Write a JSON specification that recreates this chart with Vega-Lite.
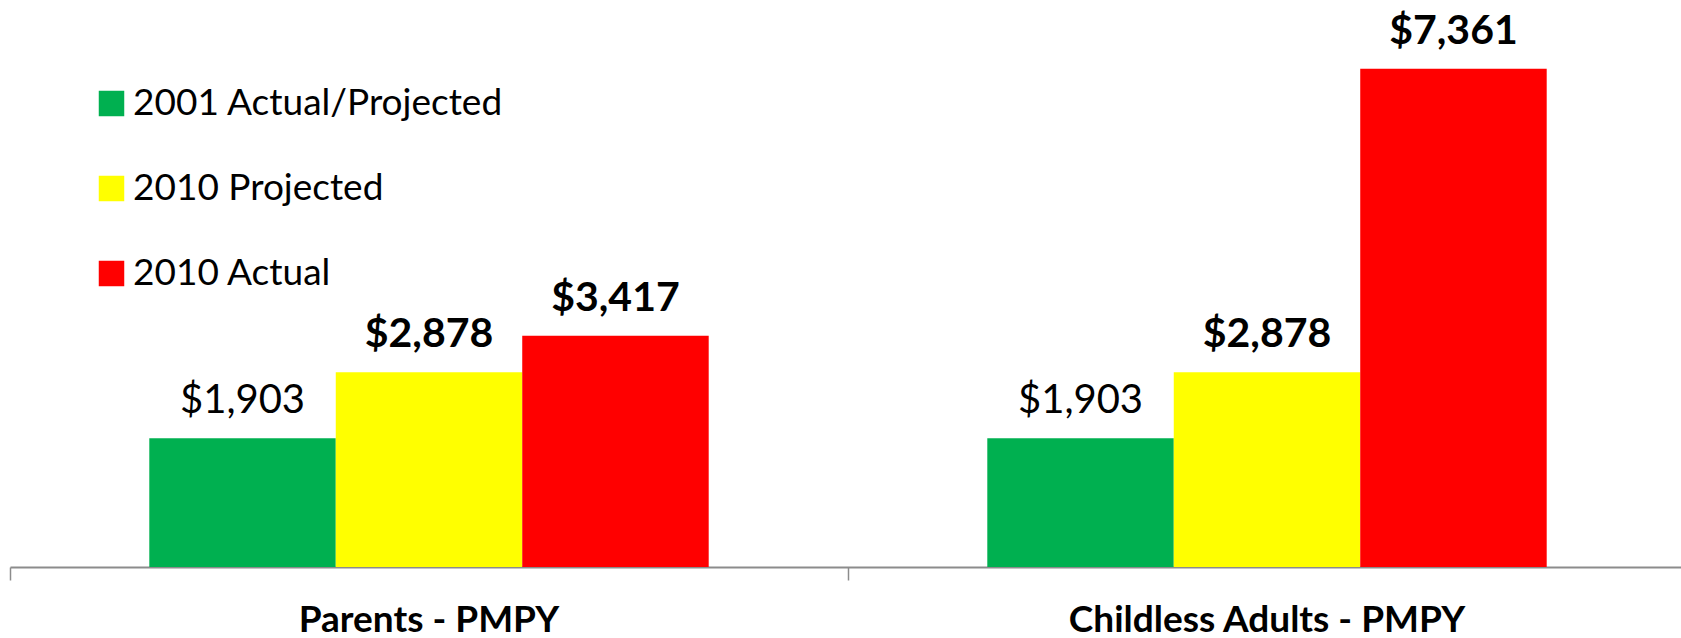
{
  "$schema": "https://vega.github.io/schema/vega-lite/v6.json",
  "width": 1676,
  "height": 567,
  "autosize": {"type": "none"},
  "padding": {"left": 10, "top": 0, "right": 0, "bottom": 71},
  "background": "white",
  "config": {"view": {"stroke": null}, "font": "Lato"},
  "data": {
    "values": [
      {"group": "Parents - PMPY", "series": "2001 Actual/Projected", "value": 1903},
      {"group": "Parents - PMPY", "series": "2010 Projected", "value": 2878},
      {"group": "Parents - PMPY", "series": "2010 Actual", "value": 3417},
      {"group": "Childless Adults - PMPY", "series": "2001 Actual/Projected", "value": 1903},
      {"group": "Childless Adults - PMPY", "series": "2010 Projected", "value": 2878},
      {"group": "Childless Adults - PMPY", "series": "2010 Actual", "value": 7361}
    ]
  },
  "encoding": {
    "x": {
      "field": "group", "type": "nominal",
      "sort": ["Parents - PMPY", "Childless Adults - PMPY"],
      "scale": {"paddingInner": 0, "paddingOuter": 0},
      "axis": {
        "title": null, "labelAngle": 0, "bandPosition": 0,
        "domainColor": "#8c8c8c", "domainWidth": 2,
        "tickColor": "#8c8c8c", "tickWidth": 1.5, "tickSize": 13,
        "labelFont": "Lato", "labelFontWeight": "bold", "labelFontSize": 37,
        "labelColor": "black", "labelPadding": 22, "labelFlush": false,
        "labelLimit": 0, "labelOverlap": false
      }
    },
    "xOffset": {
      "field": "series", "type": "nominal",
      "sort": ["2001 Actual/Projected", "2010 Projected", "2010 Actual"],
      "scale": {"paddingOuter": 0.747, "paddingInner": 0}
    },
    "y": {
      "field": "value", "type": "quantitative",
      "scale": {"domain": [0, 8375]},
      "axis": null
    }
  },
  "layer": [
    {
      "mark": {"type": "bar"},
      "encoding": {
        "color": {
          "field": "series", "type": "nominal",
          "sort": ["2001 Actual/Projected", "2010 Projected", "2010 Actual"],
          "scale": {
            "domain": ["2001 Actual/Projected", "2010 Projected", "2010 Actual"],
            "range": ["#00B050", "#FFFF00", "#FF0000"]
          },
          "legend": {
            "title": null, "orient": "none", "legendX": 83, "legendY": 85,
            "symbolType": "square", "symbolSize": 650, "symbolStrokeWidth": 0,
            "labelFont": "Lato", "labelFontSize": 37, "labelColor": "black",
            "labelOffset": 3, "rowPadding": 47, "labelLimit": 600
          }
        }
      }
    },
    {
      "transform": [{"filter": "datum.series === '2001 Actual/Projected'"}],
      "mark": {"type": "text", "baseline": "alphabetic", "dy": -25, "fontSize": 40, "font": "Lato", "color": "black"},
      "encoding": {"text": {"field": "value", "type": "quantitative", "format": "$,.0f"}}
    },
    {
      "transform": [{"filter": "datum.series !== '2001 Actual/Projected'"}],
      "mark": {"type": "text", "baseline": "alphabetic", "dy": -25, "fontSize": 41, "font": "Lato", "fontWeight": "bold", "color": "black"},
      "encoding": {"text": {"field": "value", "type": "quantitative", "format": "$,.0f"}}
    }
  ]
}
